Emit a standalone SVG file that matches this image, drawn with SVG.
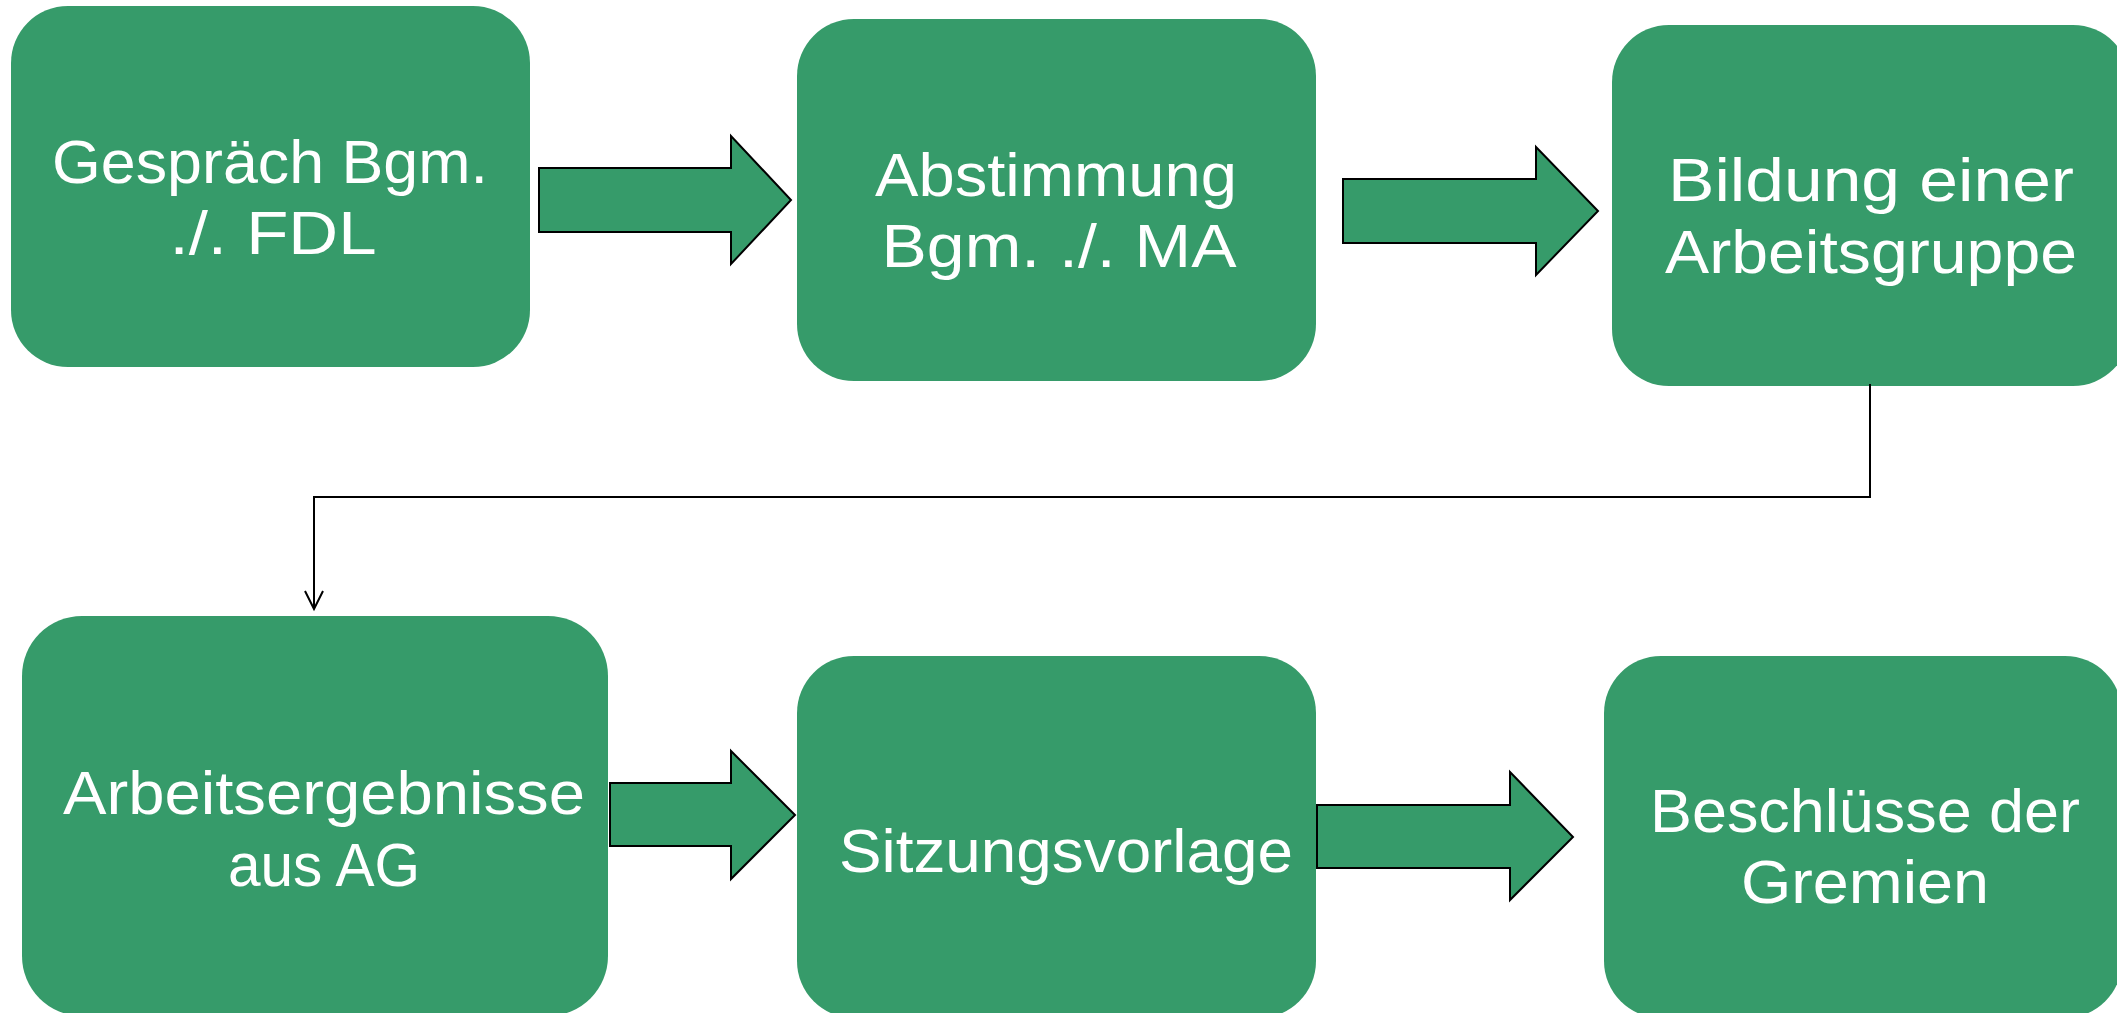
<svg xmlns="http://www.w3.org/2000/svg" width="2117" height="1013" viewBox="0 0 2117 1013">
<style>
.box{fill:#369B6A}
.lbl{font-family:"Liberation Sans",Arial,sans-serif;font-size:61px;fill:#ffffff;text-anchor:middle}
.arr{fill:#369B6A;stroke:#000;stroke-width:2;stroke-linejoin:miter}
.conn{fill:none;stroke:#000;stroke-width:2}
</style>
<defs>
<marker id="open" markerWidth="24" markerHeight="24" refX="20" refY="10" orient="auto" markerUnits="userSpaceOnUse">
<path d="M2,1 L20,10 L2,19" fill="none" stroke="#000" stroke-width="2"/>
</marker>
</defs>
<rect width="2117" height="1013" fill="#ffffff"/>
<g id="n1"><rect class="box" x="11" y="6" width="519" height="361" rx="57"/>
<text class="lbl" x="270" y="183" textLength="436" lengthAdjust="spacingAndGlyphs">Gespräch Bgm.</text>
<text class="lbl" x="273" y="254" textLength="207" lengthAdjust="spacingAndGlyphs">./. FDL</text></g>
<g id="n2"><rect class="box" x="797" y="19" width="519" height="362" rx="57"/>
<text class="lbl" x="1056" y="196" textLength="362" lengthAdjust="spacingAndGlyphs">Abstimmung</text>
<text class="lbl" x="1059" y="267" textLength="355" lengthAdjust="spacingAndGlyphs">Bgm. ./. MA</text></g>
<g id="n3"><rect class="box" x="1612" y="25" width="518" height="361" rx="57"/>
<text class="lbl" x="1871" y="201" textLength="406" lengthAdjust="spacingAndGlyphs">Bildung einer</text>
<text class="lbl" x="1871" y="273" textLength="412" lengthAdjust="spacingAndGlyphs">Arbeitsgruppe</text></g>
<g id="n4"><rect class="box" x="22" y="616" width="586" height="400" rx="60"/>
<text class="lbl" x="324" y="814" textLength="522" lengthAdjust="spacingAndGlyphs">Arbeitsergebnisse</text>
<text class="lbl" x="324" y="886" textLength="192" lengthAdjust="spacingAndGlyphs">aus AG</text></g>
<g id="n5"><rect class="box" x="797" y="656" width="519" height="362" rx="57"/>
<text class="lbl" x="1066" y="872" textLength="454" lengthAdjust="spacingAndGlyphs">Sitzungsvorlage</text></g>
<g id="n6"><rect class="box" x="1604" y="656" width="518" height="362" rx="57"/>
<text class="lbl" x="1865" y="832" textLength="430" lengthAdjust="spacingAndGlyphs">Beschlüsse der</text>
<text class="lbl" x="1865" y="903" textLength="248" lengthAdjust="spacingAndGlyphs">Gremien</text></g>
<g id="connectors">
<polygon class="arr" points="539,168 731,168 731,136 791,200 731,264 731,232 539,232"/>
<polygon class="arr" points="1343,179 1536,179 1536,147 1598,211 1536,275 1536,243 1343,243"/>
<polygon class="arr" points="610,783 731,783 731,751 795,815 731,879 731,846 610,846"/>
<polygon class="arr" points="1317,805 1510,805 1510,772 1573,837 1510,900 1510,868 1317,868"/>
<path class="conn" d="M1870,384 V497 H314 V609" marker-end="url(#open)"/>
</g>
</svg>
